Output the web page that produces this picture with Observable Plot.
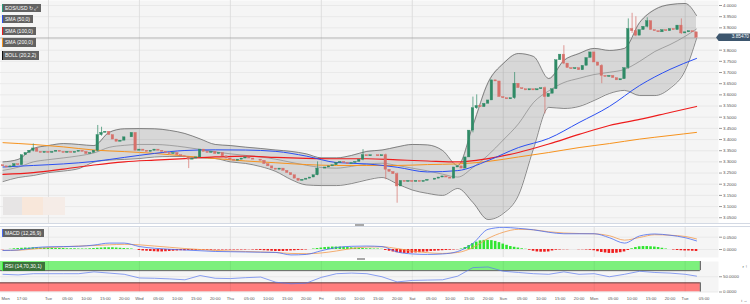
<!DOCTYPE html>
<html><head><meta charset="utf-8">
<script src="https://cdn.jsdelivr.net/npm/d3@7"></script>
<script src="https://cdn.jsdelivr.net/npm/@observablehq/plot@0.6"></script>
<style>
html,body{margin:0;padding:0;background:#fff}
#wrap{position:relative;width:750px;height:304px;overflow:hidden;font-family:"Liberation Sans",Arial,sans-serif}
.pane{position:absolute;left:0}
.pane svg{display:block}
.lg{position:absolute;left:2px;height:8.5px;line-height:8.5px;font-size:5px;color:#fff;background:#626262;padding:0 3px 0 2px;border-left:1.5px solid #000;white-space:nowrap}
.blk{position:absolute}
</style></head><body><div id="wrap"></div><script>
// ---------- data ----------
const firstOpen = 3.285;
const close = [
3.280,3.275,3.280,3.290,3.285,3.330,3.340,3.350,3.360,3.345,
3.340,3.345,3.340,3.345,3.350,3.345,3.340,3.345,3.340,3.345,
3.350,3.345,3.335,3.340,3.350,3.420,3.430,3.435,3.420,3.400,
3.390,3.395,3.410,3.410,3.430,3.350,3.355,3.350,3.345,3.350,
3.355,3.350,3.345,3.340,3.335,3.340,3.330,3.325,3.320,3.310,
3.315,3.320,3.355,3.345,3.340,3.345,3.335,3.340,3.325,3.315,
3.310,3.305,3.310,3.315,3.320,3.315,3.310,3.310,3.305,3.290,
3.280,3.270,3.265,3.270,3.260,3.250,3.240,3.225,3.215,3.220,
3.225,3.230,3.240,3.270,3.270,3.275,3.280,3.285,3.295,3.300,
3.295,3.290,3.295,3.300,3.310,3.330,3.325,3.330,3.330,3.325,
3.330,3.265,3.255,3.245,3.190,3.215,3.210,3.215,3.210,3.215,
3.210,3.215,3.220,3.220,3.225,3.230,3.235,3.230,3.225,3.275,
3.280,3.270,3.320,3.440,3.540,3.550,3.545,3.560,3.575,3.665,
3.660,3.590,3.585,3.580,3.585,3.650,3.630,3.625,3.620,3.625,
3.620,3.625,3.630,3.590,3.605,3.625,3.755,3.780,3.740,3.720,
3.715,3.720,3.710,3.730,3.765,3.790,3.745,3.730,3.685,3.680,
3.685,3.675,3.665,3.670,3.720,3.895,3.885,3.865,3.890,3.905,
3.930,3.890,3.885,3.880,3.890,3.885,3.895,3.890,3.910,3.875,
3.880,3.885,3.880,3.855];
const wickIdx  = [8,25,26,49,83,95,101,104,124,125,135,143,148,158,165,166,167,170,179];
const wickHigh = [3.380,3.463,3.455,3.322,3.300,3.355,3.335,3.250,3.590,3.600,3.700,3.635,3.820,3.735,3.940,3.965,3.950,3.945,3.940];
const wickLow  = [3.345,3.345,3.415,3.270,3.238,3.305,3.220,3.115,3.430,3.535,3.580,3.515,3.735,3.650,3.715,3.875,3.860,3.900,3.870];
const lastPrice = 3.8547;

const lineIdx = [0,4,8,12,16,20,24,28,32,36,40,44,48,52,56,60,64,68,72,76,80,84,88,92,96,100,104,108,112,116,120,124,128,132,136,140,144,148,152,156,160,164,168,172,176,180,183];
const bollUpper = [3.300,3.311,3.360,3.373,3.382,3.378,3.373,3.432,3.448,3.449,3.448,3.441,3.427,3.403,3.378,3.373,3.366,3.360,3.353,3.347,3.336,3.318,3.318,3.329,3.347,3.353,3.367,3.378,3.376,3.351,3.284,3.463,3.655,3.740,3.785,3.772,3.673,3.754,3.785,3.808,3.799,3.808,3.924,3.982,4.004,4.009,3.955];
const bollMid   = [3.262,3.276,3.300,3.310,3.318,3.327,3.340,3.365,3.374,3.378,3.378,3.374,3.366,3.356,3.345,3.336,3.329,3.322,3.312,3.298,3.285,3.275,3.272,3.280,3.290,3.294,3.284,3.272,3.260,3.245,3.232,3.275,3.330,3.398,3.470,3.566,3.618,3.655,3.674,3.691,3.701,3.714,3.750,3.794,3.825,3.862,3.895];
const bollLower = [3.212,3.230,3.239,3.252,3.259,3.270,3.299,3.308,3.311,3.315,3.322,3.324,3.324,3.318,3.315,3.300,3.293,3.279,3.257,3.221,3.197,3.194,3.194,3.203,3.219,3.230,3.202,3.174,3.159,3.150,3.181,3.118,3.042,3.069,3.150,3.360,3.544,3.539,3.548,3.575,3.606,3.620,3.597,3.597,3.629,3.709,3.852];
const rsi = [58,56,60,60,60,60,66,62,58,46,45,43,40,54,45,44,47,49,32,27,29,48,60,62,60,50,33,38,39,40,52,80,82,68,64,60,58,66,58,60,50,58,68,64,62,58,52];
const macdLine   = [-0.004,-0.002,0.007,0.011,0.012,0.013,0.018,0.026,0.026,0.012,0.005,0.001,-0.002,-0.005,-0.008,-0.009,-0.010,-0.011,-0.012,-0.022,-0.020,-0.005,0.008,0.013,0.014,0.012,-0.010,-0.018,-0.020,-0.018,-0.008,0.025,0.082,0.090,0.086,0.080,0.070,0.064,0.064,0.064,0.048,0.026,0.055,0.063,0.058,0.048,0.035];
const macdSignal = [-0.004,-0.003,0.002,0.008,0.011,0.014,0.016,0.019,0.021,0.019,0.014,0.009,0.004,0.000,-0.004,-0.006,-0.008,-0.010,-0.012,-0.016,-0.017,-0.014,-0.006,0.004,0.010,0.011,0.004,-0.006,-0.013,-0.016,-0.012,0.008,0.045,0.070,0.082,0.080,0.072,0.067,0.065,0.064,0.056,0.038,0.049,0.060,0.058,0.053,0.043];
const macdHist = [
-0.001,0.000,0.001,
0.003,0.004,0.005,0.006,0.006,0.007,0.007,0.006,0.006,0.005,0.005,0.004,0.004,0.004,0.003,0.003,0.003,0.002,0.002,0.002,0.003,0.004,0.005,0.006,0.007,0.007,0.007,
0.006,0.005,0.004,0.003,0.002,0.000,
-0.004,-0.006,-0.007,-0.008,-0.009,-0.010,-0.010,-0.009,-0.008,-0.007,-0.006,
-0.005,-0.005,-0.004,-0.004,-0.004,-0.003,-0.003,-0.003,-0.003,-0.002,-0.002,-0.002,-0.002,-0.002,-0.002,-0.002,-0.002,-0.002,
-0.001,-0.002,-0.003,-0.004,-0.005,-0.006,-0.007,-0.008,-0.008,-0.008,-0.007,-0.006,-0.005,-0.004,-0.003,-0.002,
0.000,0.002,0.004,0.006,0.008,0.009,0.010,0.010,0.010,0.009,0.008,0.007,0.006,0.005,0.004,0.003,0.003,0.002,0.002,0.001,
-0.004,-0.007,-0.010,-0.013,-0.015,-0.016,-0.016,-0.015,-0.014,-0.013,
-0.011,-0.010,-0.008,-0.007,-0.006,-0.005,-0.004,-0.003,-0.002,-0.001,
0.002,0.008,0.016,0.024,0.030,0.035,0.037,0.037,0.036,0.033,0.028,0.022,0.017,
0.012,0.009,0.006,0.003,0.001,-0.003,-0.007,-0.010,-0.011,-0.011,-0.010,-0.006,-0.003,-0.002,-0.001,
-0.001,0.000,0.000,-0.001,-0.001,-0.002,-0.003,
-0.005,-0.009,-0.012,-0.014,-0.016,-0.016,-0.015,-0.013,-0.010,
-0.004,0.003,0.008,0.011,0.012,0.012,0.011,0.010,0.008,
0.005,0.002,0.000,-0.002,-0.004,-0.005,-0.006,-0.006,-0.007,-0.008];

const smaIdx = [0,8,16,24,32,40,48,56,64,72,80,88,96,104,112,120,128,136,144,152,160,168,176,183];
const sma50  = [3.277,3.284,3.291,3.302,3.320,3.338,3.351,3.354,3.353,3.347,3.326,3.297,3.291,3.276,3.255,3.261,3.306,3.364,3.405,3.476,3.548,3.642,3.714,3.763];
const sma100 = [3.244,3.252,3.268,3.286,3.300,3.308,3.315,3.322,3.326,3.320,3.316,3.314,3.314,3.309,3.304,3.300,3.315,3.342,3.380,3.423,3.463,3.490,3.521,3.548];
const sma200 = [3.386,3.378,3.367,3.353,3.346,3.338,3.326,3.315,3.304,3.296,3.288,3.284,3.284,3.284,3.288,3.291,3.302,3.322,3.342,3.364,3.382,3.402,3.418,3.432];

const priceTicks = [4.00,3.95,3.90,3.85,3.80,3.75,3.70,3.65,3.60,3.55,3.50,3.45,3.40,3.35,3.30,3.25,3.20,3.15,3.10,3.05];
const macdTicks = [0.05, 0];
const rsiTicks = [50, 0];
const rsiLevels = [30, 70];
const tickIdx = [0.7,5,12,17,22,27,32,36,41,46,51,56,60,65,70,75,80,84,89,94,99,104,108,113,118,123,128,132,137,142,147,152,156,161,166,171,176,180,185];
const tickLabels = ["Mon","17:00","Tue","05:00","10:00","15:00","20:00","Wed","05:00","10:00","15:00","20:00","Thu","05:00","10:00","15:00","20:00","Fri","05:00","10:00","15:00","20:00","Sat","05:00","10:00","15:00","20:00","Sun","05:00","10:00","15:00","20:00","Mon","05:00","10:00","15:00","20:00","Tue","05:00"];

// ---------- build ----------
const wrap = document.getElementById("wrap");
const FONT = '"Liberation Sans", Arial, sans-serif';
const W = 750, MR = 32;
const xDomain = [-0.66, 188.8];
const UP = "#2f8a66", DN = "#d6706a";
const GRID = "#e6e6e6", DAYGRID = "#d9d9d9", BG = "#f5f5f5", AX = "#555";
const dayIdx = tickIdx.filter((d, k) => k > 0 && /^[A-Z]/.test(tickLabels[k]));
const labelOf = new Map(tickIdx.map((d, k) => [d, tickLabels[k]]));
// the price tag covers the axis label nearest to the last price
const priceLabelTicks = priceTicks.filter(t => Math.abs(t - lastPrice) > 0.02);

const candles = close.map((c, i) => { const o = i === 0 ? firstOpen : close[i - 1]; return {i, o, c, up: c >= o}; });
const wicks = wickIdx.map((i, k) => ({i, h: wickHigh[k], l: wickLow[k], up: candles[i].up}));
const bands = lineIdx.map((i, k) => ({i, u: bollUpper[k], m: bollMid[k], l: bollLower[k], r: rsi[k], macd: macdLine[k], sig: macdSignal[k]}));
const smas = smaIdx.map((i, k) => ({i, a: sma50[k], b: sma100[k], c: sma200[k]}));
const hist = macdHist.map((v, i) => ({i, v}));

function addPane(top, svg) {
  const d = document.createElement("div"); d.className = "pane"; d.style.top = top + "px";
  d.appendChild(svg); wrap.appendChild(d);
}
const style = {fontFamily: FONT, fontSize: "4.4px", color: AX, background: "transparent", overflow: "visible"};

// main price pane
const main = Plot.plot({
  width: W, height: 223, marginLeft: 0, marginRight: MR, marginTop: 0, marginBottom: 0,
  x: {domain: xDomain, axis: null},
  y: {domain: [3.0242, 4.0224], axis: null},
  style,
  marks: [
    Plot.frame({fill: BG, stroke: "none"}),
    Plot.ruleY(priceTicks, {stroke: GRID, strokeWidth: 0.8}),
    Plot.ruleX(dayIdx, {stroke: DAYGRID, strokeWidth: 0.8}),
    Plot.areaY(bands, {x: "i", y1: "l", y2: "u", fill: "#000", fillOpacity: 0.12, curve: "monotone-x"}),
    Plot.line(bands, {x: "i", y: "u", stroke: "#5a5a5a", strokeWidth: 0.7, curve: "monotone-x"}),
    Plot.line(bands, {x: "i", y: "l", stroke: "#5a5a5a", strokeWidth: 0.7, curve: "monotone-x"}),
    Plot.line(bands, {x: "i", y: "m", stroke: "#7a7a7a", strokeWidth: 0.6, curve: "monotone-x"}),
    Plot.line(smas, {x: "i", y: "c", stroke: "#f7931e", strokeWidth: 1, curve: "monotone-x"}),
    Plot.line(smas, {x: "i", y: "b", stroke: "#ee1c1c", strokeWidth: 1.2, curve: "monotone-x"}),
    Plot.line(smas, {x: "i", y: "a", stroke: "#2b4ff2", strokeWidth: 1, curve: "monotone-x"}),
    Plot.ruleY([lastPrice], {stroke: "#9c9c9c", strokeWidth: 0.7}),
    Plot.ruleX(wicks, {x: "i", y1: "l", y2: "h", stroke: d => d.up ? UP : DN, strokeWidth: 0.7}),
    Plot.rect(candles, {x1: d => d.i - 0.33, x2: d => d.i + 0.33, y1: "o", y2: "c",
      fill: d => d.up ? UP : DN, stroke: d => d.up ? UP : DN, strokeWidth: 0.4}),
    Plot.axisY(priceLabelTicks, {anchor: "right", tickSize: 3, tickPadding: 1.5, stroke: "#999", fill: AX,
      fontSize: 4.4, tickFormat: d => d.toFixed(4)})
  ]
});
addPane(0, main);

// MACD pane
const macdPane = Plot.plot({
  width: W, height: 30, marginLeft: 0, marginRight: MR, marginTop: 0, marginBottom: 0,
  x: {domain: xDomain, axis: null},
  y: {domain: [-0.0325, 0.0894], axis: null},
  style,
  marks: [
    Plot.frame({fill: BG, stroke: "none"}),
    Plot.ruleY(macdTicks, {stroke: GRID, strokeWidth: 0.8}),
    Plot.ruleX(dayIdx, {stroke: DAYGRID, strokeWidth: 0.8}),
    Plot.rect(hist, {x1: d => d.i - 0.34, x2: d => d.i + 0.34, y1: d => 0, y2: "v",
      fill: d => d.v >= 0 ? "#2fe52f" : "#f01e1e"}),
    Plot.line(bands, {x: "i", y: "sig", stroke: "#f39a4e", strokeWidth: 0.8, curve: "monotone-x"}),
    Plot.line(bands, {x: "i", y: "macd", stroke: "#4a6cf0", strokeWidth: 0.8, curve: "monotone-x"}),
    Plot.axisY(macdTicks, {anchor: "right", tickSize: 3, tickPadding: 1.5, stroke: "#999", fill: AX,
      fontSize: 4.4, tickFormat: d => d.toFixed(4)})
  ]
});
addPane(227, macdPane);

// RSI pane + time axis
const rsiPane = Plot.plot({
  width: W, height: 43, marginLeft: 0, marginRight: MR, marginTop: 0, marginBottom: 12.5,
  x: {domain: xDomain, axis: null},
  y: {domain: [0, 100], axis: null},
  style,
  marks: [
    Plot.frame({fill: BG, stroke: "none"}),
    Plot.rect([rsiLevels[1]], {x1: () => xDomain[0], x2: () => close.length, y1: d => d, y2: () => 100, fill: "#7df07d"}),
    Plot.rect([rsiLevels[0]], {x1: () => xDomain[0], x2: () => close.length, y1: () => 0, y2: d => d, fill: "#ff7d7d"}),
    Plot.ruleY(rsiTicks, {stroke: GRID, strokeWidth: 0.8}),
    Plot.ruleX(dayIdx, {stroke: "#000", strokeOpacity: 0.08, strokeWidth: 0.8}),
    Plot.ruleY(rsiLevels, {x1: xDomain[0], x2: close.length, stroke: "#3a3a3a", strokeWidth: 0.8}),
    Plot.ruleX([close.length], {y1: rsiLevels[1], y2: 100, stroke: "#222", strokeWidth: 0.8}),
    Plot.ruleX([close.length], {y1: 0, y2: rsiLevels[0], stroke: "#222", strokeWidth: 0.8}),
    Plot.line(bands, {x: "i", y: "r", stroke: "#5a78ee", strokeWidth: 0.7}),
    Plot.axisY(rsiTicks, {anchor: "right", tickSize: 3, tickPadding: 1.5, stroke: "#999", fill: AX,
      fontSize: 4.4, tickFormat: d => d.toFixed(4)}),
    Plot.axisX(tickIdx, {anchor: "bottom", tickSize: 0, tickPadding: 5, fill: AX, fontSize: 4.2,
      tickFormat: d => labelOf.get(d)})
  ]
});
addPane(261, rsiPane);

// separators and handles
function blk(l, t, w, h, bg) {
  const d = document.createElement("div"); d.className = "blk";
  d.style.cssText += `left:${l}px;top:${t}px;width:${w}px;height:${h}px;background:${bg}`;
  wrap.appendChild(d); return d;
}
blk(0, 223, 750, 1, "#d3d9e4");
blk(0, 226, 750, 1, "#d3d9e4");
blk(355, 224.3, 9, 1.6, "#a8a8a8");
blk(357, 258.2, 8, 1.6, "#a8a8a8");
// faint boxes at lower-left of price pane
blk(3, 197, 19, 18, "#e7e5e5");
blk(22, 197, 21, 18, "#f8e7da");
blk(43, 197, 22, 18, "#f5ece7");

// legend boxes
function legend(top, text, color, bg) {
  const d = document.createElement("div"); d.className = "lg";
  d.style.top = top + "px"; d.style.borderLeftColor = color; if (bg) d.style.background = bg;
  d.textContent = text; wrap.appendChild(d); return d;
}
legend(3.5, "EOS/USD  \u21BB \u2922", "#2a9d78");
legend(14.8, "SMA (50,0)", "#2b4ff2");
legend(26.8, "SMA (100,0)", "#ee1c1c");
legend(38, "SMA (200,0)", "#f7931e");
legend(51, "BOLL (20,2,2)", "#111");
legend(228.5, "MACD (12,26,9)", "#4a6cf0");
legend(262, "RSI (14,70,30,1)", "#3cf03c", "#3b733b");

// last price tag
const yTag = main.scale("y").apply(lastPrice);
const tag = document.createElement("div");
tag.style.cssText = `position:absolute;left:716px;top:${yTag - 4}px;width:34px;height:8px;line-height:8px;background:#3d566e;color:#fff;font-size:4.8px;text-align:right;padding-right:1px;box-sizing:border-box;clip-path:polygon(0 50%,3px 0,100% 0,100% 100%,3px 100%)`;
tag.textContent = lastPrice.toFixed(5);
wrap.appendChild(tag);
</script></body></html>
